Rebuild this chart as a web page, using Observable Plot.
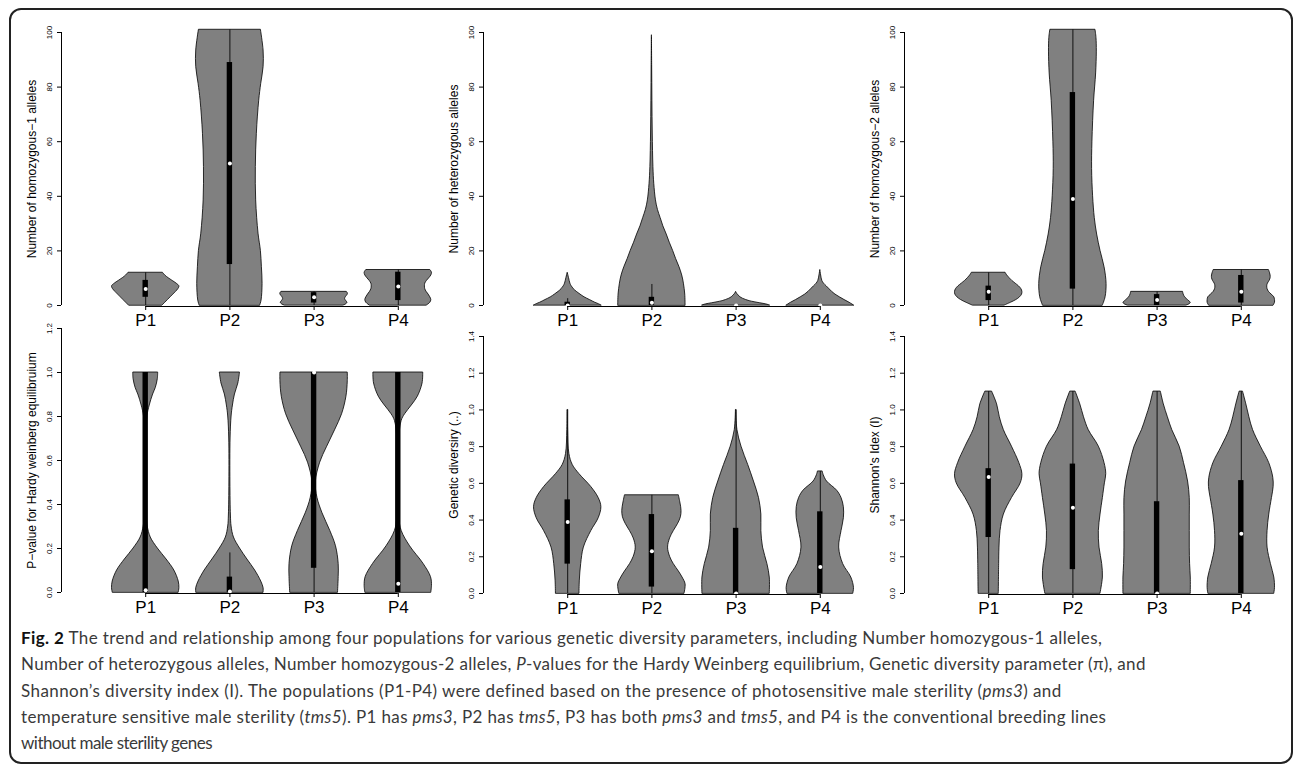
<!DOCTYPE html>
<html><head><meta charset="utf-8">
<script src="https://cdn.jsdelivr.net/npm/d3@7"></script>
<script src="https://cdn.jsdelivr.net/npm/@observablehq/plot@0.6"></script>
<style>
html,body{margin:0;padding:0;background:#fff;width:1295px;height:766px;overflow:hidden}
#frame{position:absolute;left:9px;top:8px;width:1280px;height:752px;border:2px solid #222;border-radius:12px;box-sizing:content-box}
.panel{position:absolute}
#caption{position:absolute;left:21px;top:625px;font-family:Lato,'Open Sans',sans-serif;font-size:17px;line-height:26.3px;color:#3a3a3a;white-space:nowrap}
#caption b{color:#111}
#caption span.line{display:inline-block}
</style></head><body>
<div id="frame"></div>
<div id="panels"></div>
<div id="caption">
<span class="line" data-target="1082"><b>Fig. 2</b> The trend and relationship among four populations for various genetic diversity parameters, including Number homozygous-1 alleles,</span><br>
<span class="line" data-target="1125">Number of heterozygous alleles, Number homozygous-2 alleles, <i>P</i>-values for the Hardy Weinberg equilibrium, Genetic diversity parameter (π), and</span><br>
<span class="line" data-target="1041">Shannon’s diversity index (I). The populations (P1-P4) were defined based on the presence of photosensitive male sterility (<i>pms3</i>) and</span><br>
<span class="line" data-target="1086">temperature sensitive male sterility (<i>tms5</i>). P1 has <i>pms3</i>, P2 has <i>tms5</i>, P3 has both <i>pms3</i> and <i>tms5</i>, and P4 is the conventional breeding lines</span><br>
<span class="line" data-target="191">without male sterility genes</span>
</div>
<script>
const populations = ["P1", "P2", "P3", "P4"];

// y-axis ticks
const countTicks = [0, 20, 40, 60, 80, 100];
const pvalTicks = [0, 0.2, 0.4, 0.6, 0.8, 1.0, 1.2];
const diversityTicks = [0, 0.2, 0.4, 0.6, 0.8, 1.0, 1.2, 1.4];

// ---- Panel 1: Number of homozygous-1 alleles : violin profiles [value, relative half-width]
const hom1P1 = [[0,0.5],[1,0.58],[2,0.66],[3,0.74],[4,0.82],[5,0.9],[6,0.97],[7,1.0],[8,0.92],[9,0.8],[10,0.68],[11,0.58],[12,0.51]];
const hom1P2 = [[0,0.9],[1.8,0.94],[7.9,0.97],[14,0.95],[20,0.92],[26.3,0.85],[38.5,0.78],[50.7,0.77],[62.9,0.8],[75,0.87],[81.2,0.93],[87.3,1.0],[93.4,1.0],[101,0.92]];
const hom1P3 = [[0,0.88],[0.5,0.96],[1,0.99],[1.7,0.95],[2.4,0.92],[3.2,0.95],[4,1.0],[4.5,1.0],[5,0.97]];
const hom1P4 = [[0,0.85],[1,0.95],[2,0.98],[3,0.95],[4,0.9],[5,0.84],[6,0.8],[7,0.79],[8,0.8],[9,0.85],[10,0.92],[11,0.98],[12,1.0],[13,0.95]];
const hom1Median = [6, 52, 3, 7];
const hom1Q1 = [3, 15, 0.9, 1.8];
const hom1Q3 = [9.2, 89, 4.7, 12.2];
const hom1Lo = [0, 0, 0, 0];
const hom1Hi = [12, 101, 5, 13];

// ---- Panel 2: Number of heterozygous alleles
const hetP1 = [[0,1.0],[0.5,0.92],[1,0.82],[2,0.66],[3,0.5],[4,0.38],[5,0.27],[6,0.18],[7,0.12],[8,0.08],[10,0.04],[12,0]];
const hetP2 = [[0,1.0],[4,0.99],[8,0.95],[11,0.9],[14,0.82],[17,0.72],[20,0.63],[23,0.53],[26,0.44],[29,0.34],[32,0.26],[35,0.18],[38.5,0.12],[44.6,0.07],[50.7,0.045],[63,0.025],[75,0.015],[88,0.008],[99,0]];
const hetP3 = [[0,1.0],[0.4,0.9],[0.8,0.72],[1.2,0.55],[1.6,0.4],[2,0.3],[2.5,0.2],[3,0.13],[3.7,0.07],[4.3,0.03],[5,0]];
const hetP4 = [[0,1.0],[1,0.87],[2,0.72],[3,0.58],[4,0.45],[5,0.35],[6,0.27],[7,0.19],[8,0.11],[9,0.06],[11,0.025],[13,0]];
const hetMedian = [0, 1, 0, 0];
const hetQ1 = [0, 0, 0, 0];
const hetQ3 = [1.2, 3, 0, 0];
const hetLo = [0, 0, 0, 0];
const hetHi = [2.5, 7.7, 0, 0];

// ---- Panel 3: Number of homozygous-2 alleles
const hom2P1 = [[0,0.48],[1,0.66],[2,0.82],[3,0.93],[4,0.99],[5,1.0],[6,0.97],[7,0.9],[8,0.8],[9,0.7],[10,0.62],[11,0.55],[12,0.5]];
const hom2P2 = [[0,0.89],[3,0.97],[7.9,1.0],[14,0.94],[20,0.82],[26,0.72],[32,0.65],[40,0.6],[50,0.57],[60,0.58],[75,0.63],[85,0.69],[93,0.71],[98,0.7],[101,0.67]];
const hom2P3 = [[0,0.88],[0.5,0.97],[1,1.0],[1.5,0.96],[2.4,0.88],[3,0.83],[4,0.79],[5,0.77]];
const hom2P4 = [[0,0.96],[1,1.0],[2,1.0],[3,0.98],[4,0.9],[5,0.82],[6,0.78],[7,0.77],[8,0.79],[9,0.84],[10,0.87],[11,0.87],[12,0.85],[13,0.82]];
const hom2Median = [5, 39, 2, 5];
const hom2Q1 = [1.8, 6, 0, 0.9];
const hom2Q3 = [7.1, 78, 4, 11];
const hom2Lo = [0, 0, 0, 0];
const hom2Hi = [12, 101, 5, 13];

// ---- Panel 4: P-value for Hardy Weinberg equilibrium
const hweP1 = [[0,0.98],[0.02,1.0],[0.05,0.98],[0.1,0.85],[0.15,0.62],[0.2,0.36],[0.25,0.15],[0.3,0.06],[0.35,0.03],[0.5,0.015],[0.7,0.02],[0.8,0.05],[0.85,0.12],[0.9,0.22],[0.93,0.3],[0.97,0.36],[1.0,0.37]];
const hweP2 = [[0,1.0],[0.02,1.0],[0.05,0.93],[0.1,0.75],[0.15,0.52],[0.2,0.3],[0.25,0.12],[0.3,0.05],[0.35,0.03],[0.5,0.015],[0.7,0.02],[0.8,0.05],[0.85,0.09],[0.9,0.15],[0.95,0.25],[1.0,0.3]];
const hweP3 = [[0,0.71],[0.07,0.73],[0.13,0.73],[0.21,0.65],[0.28,0.48],[0.36,0.25],[0.43,0.1],[0.5,0.05],[0.59,0.18],[0.66,0.38],[0.74,0.63],[0.81,0.83],[0.89,0.96],[0.96,1.0],[1.0,1.0]];
const hweP4 = [[0,0.98],[0.03,1.0],[0.07,0.97],[0.13,0.75],[0.21,0.35],[0.28,0.1],[0.34,0.03],[0.5,0.02],[0.7,0.03],[0.78,0.1],[0.81,0.2],[0.85,0.4],[0.89,0.58],[0.95,0.72],[1.0,0.74]];
const hweMedian = [0.01, 0.005, 1.0, 0.04];
const hweQ1 = [0, 0, 0.11, 0];
const hweQ3 = [1, 0.07, 1, 1];
const hweLo = [0, 0, 0, 0];
const hweHi = [1, 0.18, 1, 1];

// ---- Panel 5: Genetic diversity (pi)
const gdP1 = [[0,0.35],[0.07,0.36],[0.16,0.4],[0.25,0.48],[0.34,0.7],[0.41,0.92],[0.47,1.0],[0.52,0.92],[0.58,0.7],[0.65,0.35],[0.7,0.15],[0.76,0.05],[0.89,0.012],[1.0,0.005]];
const gdP2 = [[0,0.97],[0.05,1.0],[0.087,0.91],[0.12,0.8],[0.16,0.65],[0.2,0.54],[0.25,0.48],[0.3,0.54],[0.34,0.65],[0.38,0.78],[0.415,0.86],[0.45,0.88],[0.49,0.85],[0.535,0.8]];
const gdP3 = [[0,1.0],[0.087,1.0],[0.16,0.93],[0.25,0.8],[0.34,0.75],[0.43,0.75],[0.52,0.68],[0.61,0.53],[0.7,0.36],[0.8,0.16],[0.89,0.04],[1.0,0.005]];
const gdP4 = [[0,0.98],[0.03,1.0],[0.087,0.92],[0.16,0.68],[0.25,0.56],[0.34,0.63],[0.41,0.7],[0.47,0.7],[0.52,0.63],[0.56,0.5],[0.61,0.2],[0.645,0.1],[0.665,0.07]];
const gdMedian = [0.39, 0.23, 0, 0.145];
const gdQ1 = [0.16, 0.035, 0, 0];
const gdQ3 = [0.51, 0.43, 0.355, 0.445];
const gdLo = [0, 0, 0, 0];
const gdHi = [1.0, 0.535, 1.0, 0.665];

// ---- Panel 6: Shannon's index (I)
const shP1 = [[0,0.3],[0.16,0.31],[0.25,0.32],[0.34,0.35],[0.43,0.45],[0.52,0.69],[0.6,0.95],[0.65,1.0],[0.71,0.91],[0.8,0.69],[0.89,0.45],[0.96,0.33],[1.03,0.25],[1.1,0.1]];
const shP2 = [[0,0.82],[0.087,0.89],[0.16,0.87],[0.25,0.79],[0.34,0.77],[0.43,0.82],[0.52,0.89],[0.6,0.95],[0.65,0.99],[0.71,0.94],[0.8,0.77],[0.89,0.47],[0.96,0.33],[1.03,0.22],[1.1,0.08]];
const shP3 = [[0,1.0],[0.087,1.0],[0.16,0.98],[0.25,0.97],[0.34,0.97],[0.43,0.97],[0.52,0.97],[0.61,0.92],[0.71,0.8],[0.8,0.67],[0.89,0.45],[0.96,0.32],[1.03,0.2],[1.1,0.11]];
const shP4 = [[0,0.98],[0.03,1.0],[0.087,0.98],[0.16,0.88],[0.25,0.78],[0.34,0.78],[0.43,0.83],[0.52,0.91],[0.58,0.96],[0.63,0.95],[0.71,0.83],[0.8,0.58],[0.89,0.35],[0.96,0.24],[1.03,0.15],[1.1,0.05]];
const shMedian = [0.635, 0.467, 0, 0.325];
const shQ1 = [0.305, 0.13, 0, 0];
const shQ3 = [0.68, 0.705, 0.5, 0.615];
const shLo = [0, 0, 0, 0];
const shHi = [1.1, 1.1, 1.1, 1.1];

const titles = [
  "Number of homozygous\u22121 alleles",
  "Number of heterozygous alleles",
  "Number of homozygous\u22122 alleles",
  "P\u2212value for Hardy weinberg equilibruium",
  "Genetic diversiry (..)",
  "Shannon's Idex (I)"
];

const fmtInt = d3.format("d");
const fmt1 = d3.format(".1f");

const panels = [
  {title: titles[0], profiles: [hom1P1, hom1P2, hom1P3, hom1P4], median: hom1Median, q1: hom1Q1, q3: hom1Q3, lo: hom1Lo, hi: hom1Hi, ticks: countTicks, fmt: fmtInt, left: 0, top: 0, height: 335, mt: 32, mb: 30},
  {title: titles[1], profiles: [hetP1, hetP2, hetP3, hetP4], median: hetMedian, q1: hetQ1, q3: hetQ3, lo: hetLo, hi: hetHi, ticks: countTicks, fmt: fmtInt, left: 422, top: 0, height: 335, mt: 32, mb: 30},
  {title: titles[2], profiles: [hom2P1, hom2P2, hom2P3, hom2P4], median: hom2Median, q1: hom2Q1, q3: hom2Q3, lo: hom2Lo, hi: hom2Hi, ticks: countTicks, fmt: fmtInt, left: 843, top: 0, height: 335, mt: 32, mb: 30},
  {title: titles[3], profiles: [hweP1, hweP2, hweP3, hweP4], median: hweMedian, q1: hweQ1, q3: hweQ3, lo: hweLo, hi: hweHi, ticks: pvalTicks, fmt: fmt1, left: 0, top: 320, height: 300, mt: 8, mb: 28},
  {title: titles[4], profiles: [gdP1, gdP2, gdP3, gdP4], median: gdMedian, q1: gdQ1, q3: gdQ3, lo: gdLo, hi: gdHi, ticks: diversityTicks, fmt: fmt1, left: 422, top: 320, height: 300, mt: 16, mb: 27},
  {title: titles[5], profiles: [shP1, shP2, shP3, shP4], median: shMedian, q1: shQ1, q3: shQ3, lo: shLo, hi: shHi, ticks: diversityTicks, fmt: fmt1, left: 843, top: 320, height: 300, mt: 16, mb: 27}
];

function violinPanel(cfg) {
  const unit = 84.2, HW = 0.4, BW = 0.032, width = 450, marginLeft = 61;
  const rows = populations.flatMap((p, i) => cfg.profiles[i].map(([v, w]) => ({pop: p, xi: i + 1, v, w})));
  const stats = populations.map((p, i) => ({pop: p, xi: i + 1, med: cfg.median[i], q1: cfg.q1[i], q3: cfg.q3[i], lo: cfg.lo[i], hi: cfg.hi[i]}));
  const yMax = cfg.ticks[cfg.ticks.length - 1];
  const xTicks = populations.map((p, i) => i + 1);
  return Plot.plot({
    width, height: cfg.height,
    marginLeft, marginRight: width - marginLeft - 4.5 * unit, marginTop: cfg.mt, marginBottom: cfg.mb,
    x: {domain: [0, 4.5]},
    y: {domain: [0, yMax]},
    style: {fontFamily: "'Liberation Sans', Arial, Helvetica, sans-serif", background: "transparent", overflow: "visible", color: "#000"},
    marks: [
      Plot.areaX(rows, {y: "v", x1: d => d.xi - d.w * HW, x2: d => d.xi + d.w * HW, z: "pop", fill: "#808080", stroke: "#000", strokeWidth: 0.8, curve: "catmull-rom"}),
      Plot.ruleX(stats, {x: "xi", y1: "lo", y2: "hi", stroke: "#111", strokeWidth: 1}),
      Plot.rect(stats, {x1: d => d.xi - BW, x2: d => d.xi + BW, y1: "q1", y2: "q3", fill: "#000"}),
      Plot.dot(stats, {x: "xi", y: "med", r: 2, fill: "#fff", stroke: null}),
      Plot.ruleX([0], {y1: 0, y2: yMax, stroke: "#000", strokeWidth: 1}),
      Plot.ruleY([0], {x1: xTicks[0], x2: xTicks[xTicks.length - 1], dy: 1, stroke: "#000", strokeWidth: 1}),
      Plot.axisX({ticks: xTicks, tickFormat: d => populations[d - 1], tickSize: 4, tickPadding: 3.5, fontSize: 17, dy: 1, label: null}),
      Plot.axisY({ticks: cfg.ticks, tickFormat: cfg.fmt, tickSize: 4, tickPadding: 6, tickRotate: -90, fontSize: 8, label: null}),
      Plot.text([cfg.title], {frameAnchor: "left", rotate: -90, dx: -34, lineAnchor: "top", textAnchor: "middle", fontSize: 12, fill: "#000"})
    ]
  });
}

const host = document.getElementById("panels");
for (const cfg of panels) {
  const div = document.createElement("div");
  div.className = "panel";
  div.style.left = cfg.left + "px";
  div.style.top = cfg.top + "px";
  div.appendChild(violinPanel(cfg));
  host.appendChild(div);
}

// fit each caption line to the reference line length with letter spacing
for (const line of document.querySelectorAll("#caption span.line")) {
  const target = +line.dataset.target;
  const w = line.getBoundingClientRect().width;
  const n = line.textContent.length;
  if (w > 0 && n > 1) line.style.letterSpacing = ((target - w) / n).toFixed(3) + "px";
}
</script>
</body></html>
